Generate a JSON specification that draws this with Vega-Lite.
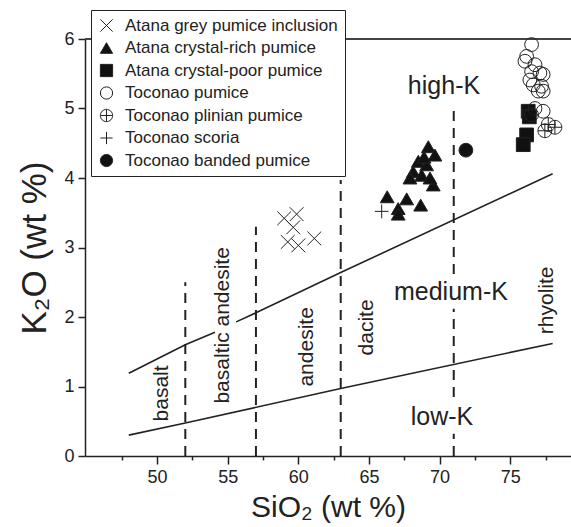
{
  "$schema": "https://vega.github.io/schema/vega-lite/v6.json",
  "width": 486,
  "height": 417,
  "autosize": "none",
  "padding": {"left": 85, "top": 39, "right": 0, "bottom": 71},
  "config": {
    "font": "Liberation Sans",
    "view": {"stroke": null},
    "axis": {
      "grid": false,
      "domainColor": "#222",
      "domainWidth": 1.5,
      "tickColor": "#222",
      "tickWidth": 1.5,
      "labelColor": "#222",
      "labelFontSize": 18,
      "titleColor": "#222",
      "titleFontSize": 30,
      "titleFontWeight": "normal"
    }
  },
  "datasets": {
    "lines": [
      {"seg": "hk1", "sio2": 48, "k2o": 1.19},
      {"seg": "hk1", "sio2": 52, "k2o": 1.6},
      {"seg": "hk1", "sio2": 54.1, "k2o": 1.78},
      {"seg": "hk2", "sio2": 55.6, "k2o": 1.93},
      {"seg": "hk2", "sio2": 57, "k2o": 2.06},
      {"seg": "hk2", "sio2": 63, "k2o": 2.64},
      {"seg": "hk2", "sio2": 78, "k2o": 4.06},
      {"seg": "lk", "sio2": 48, "k2o": 0.3},
      {"seg": "lk", "sio2": 52, "k2o": 0.475},
      {"seg": "lk", "sio2": 63, "k2o": 0.97},
      {"seg": "lk", "sio2": 78, "k2o": 1.62}
    ],
    "dashes": [
      {"sio2": 52, "bottom": 0, "top": 2.5},
      {"sio2": 57, "bottom": 0, "top": 3.3},
      {"sio2": 63, "bottom": 0, "top": 3.97},
      {"sio2": 71, "bottom": 0, "top": 0.32},
      {"sio2": 71, "bottom": 0.85, "top": 2.12},
      {"sio2": 71, "bottom": 2.62, "top": 5.05}
    ],
    "points": [
      {"type": "Atana grey pumice inclusion", "sio2": 59.0, "k2o": 3.42},
      {"type": "Atana grey pumice inclusion", "sio2": 59.88, "k2o": 3.48},
      {"type": "Atana grey pumice inclusion", "sio2": 59.64, "k2o": 3.29},
      {"type": "Atana grey pumice inclusion", "sio2": 59.25, "k2o": 3.08},
      {"type": "Atana grey pumice inclusion", "sio2": 60.0, "k2o": 3.03},
      {"type": "Atana grey pumice inclusion", "sio2": 61.13, "k2o": 3.13},
      {"type": "Atana crystal-rich pumice", "sio2": 69.2, "k2o": 4.45},
      {"type": "Atana crystal-rich pumice", "sio2": 69.67, "k2o": 4.33},
      {"type": "Atana crystal-rich pumice", "sio2": 68.49, "k2o": 4.24},
      {"type": "Atana crystal-rich pumice", "sio2": 69.08, "k2o": 4.19},
      {"type": "Atana crystal-rich pumice", "sio2": 68.13, "k2o": 4.09},
      {"type": "Atana crystal-rich pumice", "sio2": 68.73, "k2o": 4.04},
      {"type": "Atana crystal-rich pumice", "sio2": 67.9, "k2o": 4.0},
      {"type": "Atana crystal-rich pumice", "sio2": 69.55, "k2o": 3.9},
      {"type": "Atana crystal-rich pumice", "sio2": 69.32, "k2o": 4.0},
      {"type": "Atana crystal-rich pumice", "sio2": 68.9, "k2o": 4.3},
      {"type": "Atana crystal-rich pumice", "sio2": 66.29, "k2o": 3.73},
      {"type": "Atana crystal-rich pumice", "sio2": 67.67, "k2o": 3.7},
      {"type": "Atana crystal-rich pumice", "sio2": 68.66, "k2o": 3.61},
      {"type": "Atana crystal-rich pumice", "sio2": 67.07, "k2o": 3.56},
      {"type": "Atana crystal-rich pumice", "sio2": 67.07, "k2o": 3.48},
      {"type": "Atana crystal-poor pumice", "sio2": 76.27, "k2o": 4.96},
      {"type": "Atana crystal-poor pumice", "sio2": 76.35, "k2o": 4.88},
      {"type": "Atana crystal-poor pumice", "sio2": 76.16, "k2o": 4.62},
      {"type": "Atana crystal-poor pumice", "sio2": 75.92, "k2o": 4.48},
      {"type": "Toconao pumice", "sio2": 76.51, "k2o": 5.92},
      {"type": "Toconao pumice", "sio2": 76.16, "k2o": 5.75},
      {"type": "Toconao pumice", "sio2": 76.04, "k2o": 5.68},
      {"type": "Toconao pumice", "sio2": 76.75, "k2o": 5.63},
      {"type": "Toconao pumice", "sio2": 76.51, "k2o": 5.53},
      {"type": "Toconao pumice", "sio2": 77.1, "k2o": 5.51},
      {"type": "Toconao pumice", "sio2": 77.33, "k2o": 5.49},
      {"type": "Toconao pumice", "sio2": 76.39, "k2o": 5.41},
      {"type": "Toconao pumice", "sio2": 76.63, "k2o": 5.34},
      {"type": "Toconao pumice", "sio2": 77.22, "k2o": 5.32},
      {"type": "Toconao pumice", "sio2": 76.98, "k2o": 5.25},
      {"type": "Toconao pumice", "sio2": 77.33, "k2o": 5.25},
      {"type": "Toconao pumice", "sio2": 76.75, "k2o": 5.0},
      {"type": "Toconao pumice", "sio2": 77.33, "k2o": 4.96},
      {"type": "Toconao pumice", "sio2": 76.51, "k2o": 4.91},
      {"type": "Toconao plinian pumice", "sio2": 77.45, "k2o": 4.68},
      {"type": "Toconao plinian pumice", "sio2": 78.16, "k2o": 4.73},
      {"type": "Toconao plinian pumice", "sio2": 77.69, "k2o": 4.77},
      {"type": "Toconao scoria", "sio2": 65.9, "k2o": 3.52},
      {"type": "Toconao banded pumice", "sio2": 71.86, "k2o": 4.4}
    ]
  },
  "layer": [
    {
      "data": {"name": "lines"},
      "mark": {"type": "line", "color": "#222", "strokeWidth": 1.6},
      "encoding": {
        "x": {
          "field": "sio2", "type": "quantitative",
          "scale": {"domain": [44.9, 79.3], "nice": false, "zero": false},
          "axis": {
            "title": "SiO₂ (wt %)",
            "values": [47.5, 50, 52.5, 55, 57.5, 60, 62.5, 65, 67.5, 70, 72.5, 75, 77.5],
            "labelExpr": "datum.value % 5 === 0 ? datum.label : ''",
            "tickSize": {"condition": {"test": "datum.value % 5 === 0", "value": 8}, "value": 4},
            "labelPadding": 4,
            "titlePadding": 6
          }
        },
        "y": {
          "field": "k2o", "type": "quantitative",
          "scale": {"domain": [0, 6], "nice": false},
          "axis": {
            "title": "K₂O (wt %)",
            "titleFontSize": 35,
            "values": [0, 0.5, 1, 1.5, 2, 2.5, 3, 3.5, 4, 4.5, 5, 5.5, 6],
            "format": "d",
            "labelExpr": "datum.value % 1 === 0 ? format(datum.value, 'd') : ''",
            "tickSize": {"condition": {"test": "datum.value % 1 === 0", "value": 7}, "value": 4},
            "labelPadding": 4,
            "titlePadding": 11
          }
        },
        "detail": {"field": "seg"},
        "order": {"field": "sio2"}
      }
    },
    {
      "data": {"name": "dashes"},
      "mark": {"type": "rule", "color": "#222", "strokeWidth": 2, "strokeDash": [10, 7]},
      "encoding": {
        "x": {"field": "sio2", "type": "quantitative"},
        "y": {"field": "bottom", "type": "quantitative"},
        "y2": {"field": "top"}
      }
    },
    {
      "data": {"values": [{"k2o": 6}]},
      "mark": {"type": "rule", "color": "#444", "strokeWidth": 2},
      "encoding": {"y": {"field": "k2o", "type": "quantitative"}}
    },
    {
      "data": {"name": "points"},
      "mark": {"type": "point", "stroke": "#222", "strokeWidth": 1, "opacity": 1, "size": 190},
      "encoding": {
        "x": {"field": "sio2", "type": "quantitative"},
        "y": {"field": "k2o", "type": "quantitative"},
        "shape": {
          "field": "type", "type": "nominal",
          "scale": {
            "domain": ["Atana grey pumice inclusion", "Atana crystal-rich pumice", "Atana crystal-poor pumice", "Toconao pumice", "Toconao plinian pumice", "Toconao scoria", "Toconao banded pumice"],
            "range": ["M-1,-1L1,1M-1,1L1,-1", "triangle-up", "square", "circle", "M-1,0A1,1,0,1,1,1,0A1,1,0,1,1,-1,0ZM-1,0L1,0M0,-1L0,1", "M-1,0L1,0M0,-1L0,1", "circle"]
          },
          "legend": {
            "title": null,
            "orient": "none",
            "legendX": 6,
            "legendY": -29,
            "strokeColor": "#222",
            "fillColor": "white",
            "padding": 7,
            "labelFontSize": 17,
            "labelColor": "#222",
            "labelOffset": 10,
            "labelLimit": 0,
            "symbolSize": 150,
            "symbolStrokeWidth": 1,
            "rowPadding": 4.5
          }
        },
        "fill": {
          "field": "type", "type": "nominal",
          "scale": {
            "domain": ["Atana grey pumice inclusion", "Atana crystal-rich pumice", "Atana crystal-poor pumice", "Toconao pumice", "Toconao plinian pumice", "Toconao scoria", "Toconao banded pumice"],
            "range": ["transparent", "#111", "#111", "transparent", "transparent", "transparent", "#111"]
          },
          "legend": {
            "title": null,
            "orient": "none",
            "legendX": 6,
            "legendY": -29
          }
        }
      }
    },
    {
      "data": {"values": [
        {"t": "high-K", "sio2": 70.31, "k2o": 5.33},
        {"t": "medium-K", "sio2": 70.8, "k2o": 2.36},
        {"t": "low-K", "sio2": 70.17, "k2o": 0.56}
      ]},
      "mark": {"type": "text", "fontSize": 25, "color": "#222", "baseline": "middle", "align": "center"},
      "encoding": {
        "x": {"field": "sio2", "type": "quantitative"},
        "y": {"field": "k2o", "type": "quantitative"},
        "text": {"field": "t"}
      }
    },
    {
      "data": {"values": [
        {"t": "basalt", "sio2": 50.37, "k2o": 0.9},
        {"t": "basaltic andesite", "sio2": 54.69, "k2o": 1.88},
        {"t": "andesite", "sio2": 60.63, "k2o": 1.57},
        {"t": "dacite", "sio2": 64.84, "k2o": 1.85},
        {"t": "rhyolite", "sio2": 77.6, "k2o": 2.24}
      ]},
      "mark": {"type": "text", "fontSize": 21, "color": "#222", "baseline": "middle", "align": "center", "angle": 270},
      "encoding": {
        "x": {"field": "sio2", "type": "quantitative"},
        "y": {"field": "k2o", "type": "quantitative"},
        "text": {"field": "t"}
      }
    }
  ]
}
